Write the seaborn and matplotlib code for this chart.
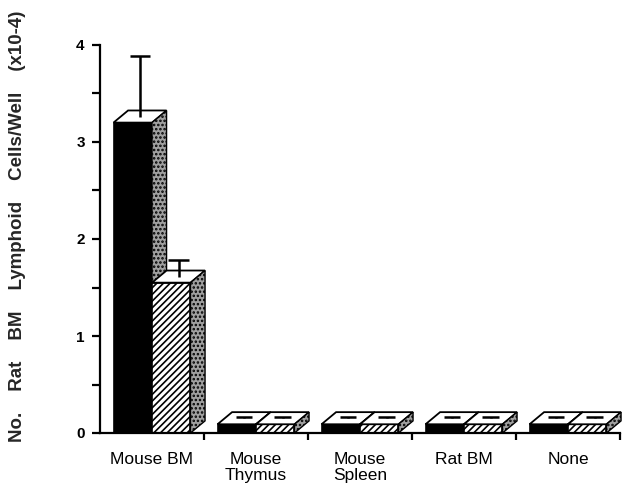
import numpy as np
import pandas as pd
import matplotlib
matplotlib.use("Agg")
import matplotlib.pyplot as plt
from matplotlib.patches import Polygon
import seaborn as sns

# ---- data ----
groups = ["Mouse BM", "Mouse\nThymus", "Mouse\nSpleen", "Rat BM", "None"]
series = ["A", "B"]
values_a = [3.20, 0.09, 0.09, 0.09, 0.09]
values_b = [1.55, 0.09, 0.09, 0.09, 0.09]
errors_a = [0.62, 0.01, 0.01, 0.01, 0.01]
errors_b = [0.17, 0.01, 0.01, 0.01, 0.01]
yticks = [0, 1, 2, 3, 4]
ylabel = "No.    Rat    BM    Lymphoid    Cells/Well    (x10-4)"

df = pd.DataFrame({
    "group": groups * 2,
    "series": [series[0]] * len(groups) + [series[1]] * len(groups),
    "value": values_a + values_b,
})

sns.set_style("white")
plt.rcParams["font.family"] = ["Liberation Sans", "DejaVu Sans"]
plt.rcParams["hatch.linewidth"] = 1.2

fig = plt.figure(figsize=(6.22, 5.01), dpi=100)
ax = fig.add_axes([100 / 622, 1 - 433 / 501, 520 / 622, 388 / 501])

sns.barplot(data=df, x="group", y="value", hue="series", order=groups,
            hue_order=series, palette=["black", "white"], width=0.74,
            errorbar=None, legend=False, ax=ax, zorder=2,
            edgecolor="black", linewidth=1.2, saturation=1)

ax.set_xlim(-0.5, 4.5)
ax.set_ylim(0, 4)

dx = 0.14    # depth offset in x (data)
dy = 0.125   # depth offset in y (data)
side_color = "#a0a0a0"
errs = [errors_a, errors_b]

z = 3
for gi in range(len(groups)):
    for si, cont in enumerate(ax.containers[:2]):
        bar = cont.patches[gi]
        x0 = bar.get_x()
        w = bar.get_width()
        h = bar.get_height()
        bar.set_zorder(z)
        if si == 1:
            bar.set_hatch("/////")
        # top face
        top = Polygon([(x0, h), (x0 + w, h), (x0 + w + dx, h + dy), (x0 + dx, h + dy)],
                      closed=True, facecolor="white", edgecolor="black",
                      linewidth=1.3, zorder=z + 0.1, clip_on=False)
        ax.add_patch(top)
        # side face
        side = Polygon([(x0 + w, 0), (x0 + w + dx, dy), (x0 + w + dx, h + dy), (x0 + w, h)],
                       closed=True, facecolor=side_color, edgecolor="black",
                       hatch="....", linewidth=1.0, zorder=z + 0.1, clip_on=False)
        ax.add_patch(side)
        # error bar (upper only) from centre of top face
        cx = x0 + w / 2 + dx / 2
        cy = h + dy / 2
        e = errs[si][gi]
        cap = 0.10 if gi == 0 else 0.08
        ax.vlines(cx, cy, cy + e, colors="black", linewidth=1.8, zorder=z + 0.2,
                  clip_on=False)
        ax.hlines(cy + e, cx - cap, cx + cap, colors="black", linewidth=1.8,
                  zorder=z + 0.2, clip_on=False)
        z += 1

# axes styling
sns.despine(ax=ax)
for s in ["left", "bottom"]:
    ax.spines[s].set_linewidth(1.6)
    ax.spines[s].set_color("black")
    ax.spines[s].set_zorder(50)

ax.set_yticks(yticks)
ax.set_yticks(np.arange(0.5, 4, 1.0), minor=True)
ax.set_yticklabels([str(t) for t in yticks], fontsize=11, fontweight="bold")
ax.tick_params(axis="y", which="both", direction="out", length=6, width=1.6,
               left=True, pad=5, colors="black")

ax.set_xticks(range(len(groups)))
ax.set_xticklabels(groups, fontsize=12.5, linespacing=1.05)
ax.set_xticks(np.arange(0.5, 5, 1.0), minor=True)
ax.tick_params(axis="x", which="major", length=0, pad=14, colors="black")
ax.tick_params(axis="x", which="minor", direction="out", length=5, width=1.6,
               bottom=True, colors="black")

ax.set_xlabel("")
ax.set_ylabel("")
fig.text(18 / 622, 1 - 226 / 501, ylabel, rotation=90, ha="center", va="center",
         fontsize=13.5, fontweight="bold")

fig.savefig("out.png", dpi=100)
